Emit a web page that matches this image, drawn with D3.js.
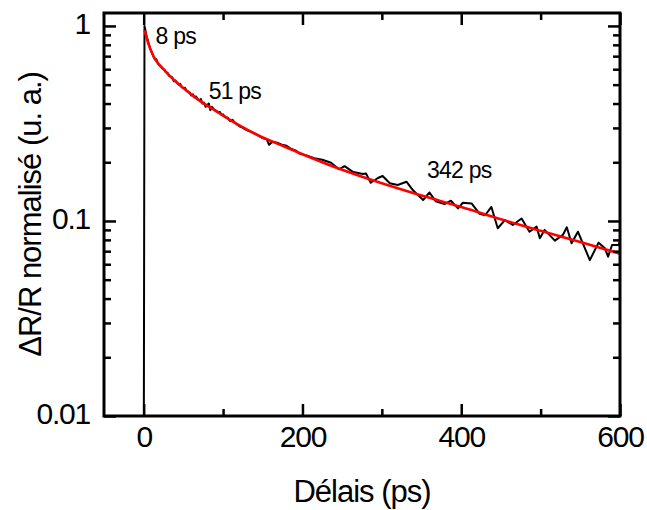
<!DOCTYPE html>
<html>
<head>
<meta charset="utf-8">
<script src="https://cdn.jsdelivr.net/npm/d3@7"></script>
<style>
  body { margin: 0; background: #fff; }
  text { font-family: "Liberation Sans", Arial, sans-serif; fill: #000; }
</style>
</head>
<body>
<script>
const width = 647;
const height = 510;

let margin = {top: 13, right: 27, bottom: 94, left: 104};

// measured trace [delay (ps), dR/R normalised]
const measured = [
    [-50, 0.002], [-1, 0.002], [0, 0.003], [1, 1.0], [2, 0.96], [3, 0.91], [4, 0.87],
    [5, 0.85], [6, 0.82], [8, 0.77], [10, 0.735], [12, 0.70], [14, 0.675], [16, 0.675],
    [18, 0.64], [20, 0.63], [22, 0.615], [24, 0.605], [26, 0.595], [28, 0.58], [30, 0.575],
    [32, 0.555], [34, 0.55], [36, 0.545], [38, 0.52], [40, 0.525], [42, 0.51], [44, 0.50],
    [46, 0.505], [48, 0.485], [50, 0.48], [52, 0.482], [54, 0.465], [56, 0.46], [58, 0.455],
    [60, 0.44], [62, 0.446], [64, 0.43], [66, 0.435], [68, 0.42], [70, 0.415], [72, 0.422],
    [74, 0.40], [76, 0.405], [78, 0.385], [80, 0.392], [82, 0.40], [84, 0.37], [86, 0.385],
    [88, 0.375], [90, 0.37], [92, 0.366], [94, 0.36], [96, 0.362], [98, 0.35], [100, 0.352],
    [103, 0.34], [106, 0.338], [109, 0.325], [112, 0.33], [115, 0.318], [118, 0.312],
    [121, 0.305], [124, 0.302], [127, 0.296], [132, 0.29], [138, 0.283], [144, 0.275],
    [150, 0.266], [155, 0.262], [158, 0.246], [162, 0.255], [168, 0.252], [174, 0.246],
    [180, 0.243], [186, 0.234], [192, 0.229], [196, 0.222], [205, 0.217], [215, 0.21],
    [225, 0.206], [236, 0.199], [246, 0.184], [253, 0.191], [263, 0.179], [276, 0.174],
    [280, 0.175], [286, 0.157], [295, 0.166], [301, 0.170], [310, 0.156], [320, 0.153],
    [331, 0.159], [339, 0.144], [352, 0.128], [360, 0.140], [368, 0.126], [379, 0.122],
    [387, 0.127], [396, 0.116], [402, 0.124], [413, 0.123], [423, 0.109], [430, 0.107],
    [438, 0.118], [446, 0.0918], [455, 0.101], [465, 0.0954], [476, 0.103], [486, 0.0881],
    [495, 0.0935], [499, 0.0815], [505, 0.09], [518, 0.0793], [528, 0.0848], [533, 0.0928],
    [539, 0.0769], [547, 0.0881], [562, 0.063], [573, 0.0774], [581, 0.0724], [585, 0.0656],
    [590, 0.0753], [598, 0.0753], [600, 0.078]
];

// fitted curve (red)
const fitted = [
    [1, 0.95], [3, 0.89], [6, 0.81], [9, 0.75], [12, 0.705], [15, 0.67], [20, 0.63],
    [25, 0.60], [30, 0.57], [40, 0.52], [50, 0.48], [60, 0.445], [70, 0.415], [80, 0.39],
    [90, 0.368], [100, 0.347], [120, 0.31], [150, 0.268], [175, 0.243], [200, 0.22],
    [250, 0.183], [300, 0.156], [350, 0.135], [400, 0.118], [450, 0.102], [500, 0.089],
    [550, 0.078], [600, 0.068]
];

const xMajor = [0, 200, 400, 600];
const xMinor = [100, 300, 500];
const yMajor = [0.01, 0.1, 1];
const yMinor = [0.02, 0.03, 0.04, 0.05, 0.06, 0.07, 0.08, 0.09,
                0.2, 0.3, 0.4, 0.5, 0.6, 0.7, 0.8, 0.9];

// time constant labels
const labels = [
    {text: "8 ps", t: 15, v: 0.81},
    {text: "51 ps", t: 82, v: 0.42},
    {text: "342 ps", t: 357, v: 0.166}
];

let svg = d3.select("body")
    .append("svg")
    .attr("width", width)
    .attr("height", height);

let xScale = d3.scaleLinear()
    .domain([-50, 600])
    .range([margin.left, width - margin.right]);

let yScale = d3.scaleLog()
    .domain([0.01, 1.165])
    .range([height - margin.bottom, margin.top]);

svg.append("clipPath")
    .attr("id", "plot")
    .append("rect")
    .attr("x", margin.left)
    .attr("y", margin.top)
    .attr("width", width - margin.left - margin.right)
    .attr("height", height - margin.top - margin.bottom);

///////////////
// Draw data //
///////////////
let line = d3.line()
    .x(d => xScale(d[0]))
    .y(d => yScale(d[1]));

svg.append("path")
    .datum(measured)
    .attr("clip-path", "url(#plot)")
    .attr("fill", "none")
    .attr("stroke", "#000")
    .attr("stroke-width", 2)
    .attr("stroke-linejoin", "round")
    .attr("d", line);

svg.append("path")
    .datum(fitted)
    .attr("clip-path", "url(#plot)")
    .attr("fill", "none")
    .attr("stroke", "#ff0000")
    .attr("stroke-width", 2.6)
    .attr("d", line.curve(d3.curveMonotoneX));

///////////////
// Draw axes //
///////////////
function drawAxis(axis, tx, ty) {
    let g = svg.append("g")
        .attr("transform", `translate(${tx}, ${ty})`)
        .call(axis);
    g.selectAll(".domain").remove();
    g.selectAll("line").attr("stroke", "#000").attr("stroke-width", 2.5);
    return g;
}

const bottomY = height - margin.bottom;
const rightX = width - margin.right;

// bottom
let bottom = drawAxis(d3.axisBottom(xScale).tickValues(xMajor).tickSize(-12).tickPadding(10), 0, bottomY);
bottom.selectAll("text")
    .style("font-size", "30px")
    .style("letter-spacing", "-1.2px");
drawAxis(d3.axisBottom(xScale).tickValues(xMinor).tickSize(-7).tickFormat(""), 0, bottomY);
// top
drawAxis(d3.axisTop(xScale).tickValues(xMajor).tickSize(-12).tickFormat(""), 0, margin.top);
drawAxis(d3.axisTop(xScale).tickValues(xMinor).tickSize(-7).tickFormat(""), 0, margin.top);
// left
let left = drawAxis(d3.axisLeft(yScale).tickValues(yMajor).tickSize(-12).tickPadding(14)
    .tickFormat(d3.format("")), margin.left, 0);
left.selectAll("text")
    .attr("dy", "0.26em")
    .style("font-size", "30px")
    .style("letter-spacing", "-1.2px");
drawAxis(d3.axisLeft(yScale).tickValues(yMinor).tickSize(-7).tickFormat(""), margin.left, 0);
// right
drawAxis(d3.axisRight(yScale).tickValues(yMajor).tickSize(-12).tickFormat(""), rightX, 0);
drawAxis(d3.axisRight(yScale).tickValues(yMinor).tickSize(-7).tickFormat(""), rightX, 0);

// frame
svg.append("rect")
    .attr("x", margin.left)
    .attr("y", margin.top)
    .attr("width", rightX - margin.left)
    .attr("height", bottomY - margin.top)
    .attr("fill", "none")
    .attr("stroke", "#000")
    .attr("stroke-width", 3);

////////////////
// Axis title //
////////////////
svg.append("text")
    .attr("x", (margin.left + rightX) / 2)
    .attr("y", 502)
    .attr("text-anchor", "middle")
    .style("font-size", "31px")
    .style("letter-spacing", "-1px")
    .text("Délais (ps)");

svg.append("text")
    .attr("transform", `translate(41, ${(margin.top + bottomY) / 2}) rotate(-90)`)
    .attr("text-anchor", "middle")
    .style("font-size", "31px")
    .style("letter-spacing", "-1px")
    .text("ΔR/R normalisé (u. a.)");

// annotations
svg.selectAll(".lbl")
    .data(labels)
    .join("text")
    .attr("class", "lbl")
    .attr("x", d => xScale(d.t))
    .attr("y", d => yScale(d.v))
    .style("font-size", "23px")
    .style("letter-spacing", "-0.8px")
    .text(d => d.text);
</script>
</body>
</html>
